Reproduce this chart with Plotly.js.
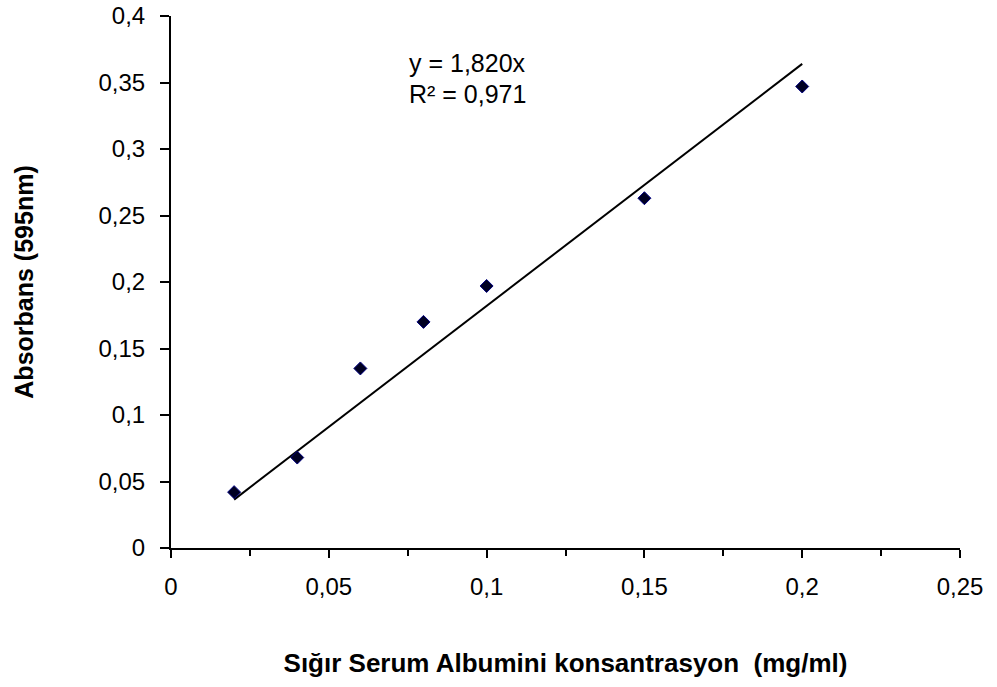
<!DOCTYPE html>
<html>
<head>
<meta charset="utf-8">
<script src="https://cdn.plot.ly/plotly-3.0.1.min.js"></script>
<style>html,body{margin:0;padding:0;background:#fff;}#chart{width:997px;height:687px;}</style>
</head>
<body>
<div id="chart"></div>
<script>
// Data
const concentration = [0.02, 0.04, 0.06, 0.08, 0.10, 0.15, 0.20];
const absorbance = [0.042, 0.068, 0.135, 0.170, 0.197, 0.263, 0.347];
const trendSlope = 1.820;
const trendRange = [0.02, 0.20];
const equationLines = ["y = 1,820x", "R² = 0,971"];
const xTickVals = [0, 0.05, 0.1, 0.15, 0.2, 0.25];
const xTickText = ["0", "0,05", "0,1", "0,15", "0,2", "0,25"];
const yTickVals = [0, 0.05, 0.1, 0.15, 0.2, 0.25, 0.3, 0.35, 0.4];
const yTickText = ["0", "0,05", "0,1", "0,15", "0,2", "0,25", "0,3", "0,35", "0,4"];
const xTitle = "Sığır Serum Albumini konsantrasyon  (mg/ml)";
const yTitle = "Absorbans (595nm)";

const FONT = "Liberation Sans, Arial, sans-serif";

const traces = [
  {
    x: trendRange,
    y: trendRange.map(v => trendSlope * v),
    mode: "lines",
    line: {color: "#000000", width: 2},
    hoverinfo: "skip",
    showlegend: false
  },
  {
    x: concentration,
    y: absorbance,
    mode: "markers",
    marker: {symbol: "diamond", size: 10, color: "#000022", line: {color: "#000080", width: 1}},
    showlegend: false
  }
];

const layout = {
  width: 997,
  height: 687,
  margin: {l: 171, r: 37, t: 16, b: 139},
  paper_bgcolor: "#ffffff",
  plot_bgcolor: "#ffffff",
  font: {family: FONT, color: "#000000", size: 24},
  showlegend: false,
  xaxis: {
    range: [0, 0.25],
    tickvals: xTickVals,
    ticktext: xTickText,
    ticks: "outside",
    ticklen: 8,
    tickwidth: 2,
    tickcolor: "#000",
    showline: true,
    linecolor: "#000",
    linewidth: 2,
    showgrid: false,
    zeroline: false,
    tickfont: {family: FONT, size: 24, color: "#000"},
    ticklabelstandoff: 8,
    minor: {dtick: 0.025, tick0: 0, ticks: "outside", ticklen: 6, tickwidth: 2, tickcolor: "#000", showgrid: false},
    title: {text: xTitle, font: {family: FONT, size: 26, color: "#000", weight: "bold"}, standoff: 55}
  },
  yaxis: {
    range: [0, 0.4],
    tickvals: yTickVals,
    ticktext: yTickText,
    ticks: "outside",
    ticklen: 9,
    tickwidth: 2,
    tickcolor: "#000",
    showline: true,
    linecolor: "#000",
    linewidth: 2,
    showgrid: false,
    zeroline: false,
    tickfont: {family: FONT, size: 24, color: "#000"},
    ticklabelstandoff: 10,
    title: {text: yTitle, font: {family: FONT, size: 25, color: "#000", weight: "bold"}, standoff: 58}
  },
  annotations: [
    {
      xref: "x", yref: "y", xanchor: "left", yanchor: "middle",
      x: 0.0751, y: 0.3650,
      text: equationLines[0],
      showarrow: false,
      borderpad: 0,
      font: {family: FONT, size: 25, color: "#000"}
    },
    {
      xref: "x", yref: "y", xanchor: "left", yanchor: "middle",
      x: 0.0751, y: 0.3417,
      text: equationLines[1],
      showarrow: false,
      borderpad: 0,
      font: {family: FONT, size: 25, color: "#000"}
    }
  ]
};

Plotly.newPlot("chart", traces, layout, {displayModeBar: false, staticPlot: true});
</script>
</body>
</html>
